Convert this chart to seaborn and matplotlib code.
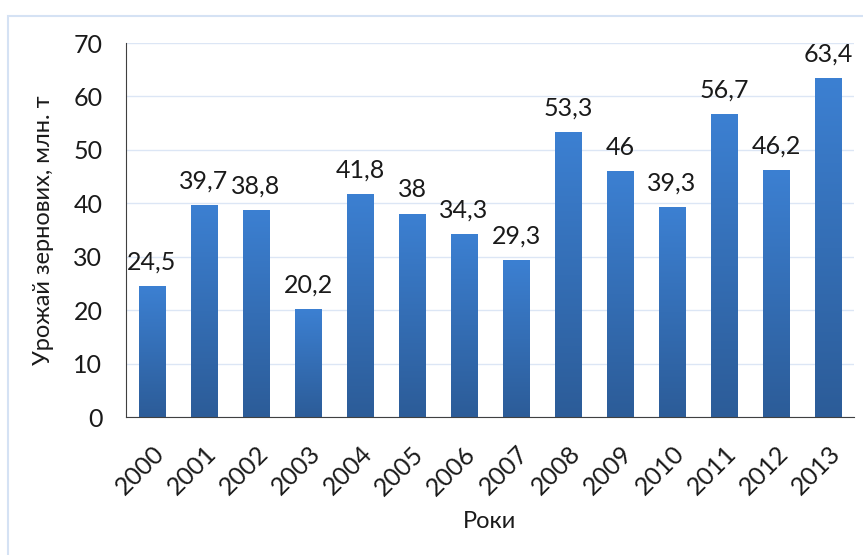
import numpy as np
import pandas as pd
import matplotlib.pyplot as plt
import seaborn as sns
from matplotlib.colors import LinearSegmentedColormap
from matplotlib.patches import Rectangle

# data
years = ["2000", "2001", "2002", "2003", "2004", "2005", "2006",
         "2007", "2008", "2009", "2010", "2011", "2012", "2013"]
harvest = [24.5, 39.7, 38.8, 20.2, 41.8, 38.0, 34.3,
           29.3, 53.3, 46.0, 39.3, 56.7, 46.2, 63.4]

df = pd.DataFrame({"Роки": years, "Урожай": harvest})

sns.set_style("white")
plt.rcParams['font.family'] = ['Lato', 'DejaVu Sans']

fig = plt.figure(figsize=(8.63, 5.55), dpi=100)
ax = fig.add_axes([0.146, 0.2486, 0.8436, 0.6739])

# light frame around the chart
fig.patches.append(Rectangle((8 / 863, -0.1), 1.0, 1 - 16 / 555 + 0.1,
                             transform=fig.transFigure, fill=False,
                             edgecolor="#D5E2F4", linewidth=1.5))

sns.barplot(data=df, x="Роки", y="Урожай", color="#3A78C4", width=0.5, ax=ax)

# gradient fill on each bar (lighter top, darker bottom)
cmap = LinearSegmentedColormap.from_list("bar", ["#2C5C98", "#3C80D2"])
grad = np.linspace(0, 1, 256).reshape(-1, 1)
for p in ax.patches:
    x0, y0 = p.get_x(), p.get_y()
    w, h = p.get_width(), p.get_height()
    im = ax.imshow(grad, cmap=cmap, aspect="auto", origin="lower",
                   extent=[x0, x0 + w, y0, y0 + h], zorder=2)
    im.set_clip_path(p)
    p.set_facecolor("none")
    p.set_edgecolor("none")

for i, v in enumerate(harvest):
    ax.annotate(f"{v:g}".replace(".", ","), (i, v), xytext=(0, 9),
                textcoords="offset points", ha="center", va="bottom",
                fontsize=18, color="#1a1a1a")

ax.set_xlim(-0.5, len(years) - 0.5)
ax.set_ylim(0, 70)
ax.set_yticks(range(0, 71, 10))
ax.yaxis.grid(True, color="#DCE6F5", linewidth=1)
ax.set_axisbelow(True)
ax.tick_params(axis="both", length=0, labelsize=18, colors="#1a1a1a")
ax.tick_params(axis="y", pad=17)
ax.tick_params(axis="x", pad=18)
plt.setp(ax.get_xticklabels(), rotation=45, ha="right", rotation_mode="anchor")

for s in ["top", "right"]:
    ax.spines[s].set_visible(False)
ax.spines["left"].set_color("#404040")
ax.spines["bottom"].set_color("#404040")

ax.set_xlabel("Роки", fontsize=17, color="#1a1a1a", labelpad=8)
ax.set_ylabel("Урожай зернових, млн. т", fontsize=17, color="#1a1a1a", labelpad=14)

fig.savefig("out.png", dpi=100)
